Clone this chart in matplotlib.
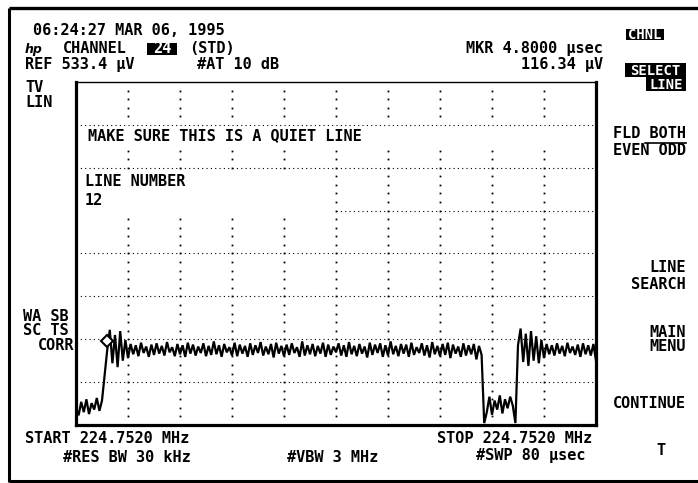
import numpy as np
import matplotlib
matplotlib.use('Agg')
import matplotlib.pyplot as plt
from matplotlib.patches import Rectangle
import matplotlib.transforms as mtransforms

W, H = 698, 483

# ---------------- data ----------------
ref_level_uv = 533.4
sweep_us = 80.0
n_div_x, n_div_y = 10, 8
trace_step_us = 0.4

trace_uv = [
    28, 15, 36, 20, 40, 17, 34, 24, 42, 22, 38,
    78, 116.3,
    148, 96, 140, 90, 146, 100, 132, 104,
    126, 110, 124, 107, 128, 112, 122, 106, 125, 109,
    127, 111, 123, 108, 129, 113, 121, 107, 126, 110,
    124, 106, 128, 111, 125, 108, 122, 112, 127, 107,
    123, 109, 130, 110, 124, 106, 126, 113, 121, 108,
    128, 107, 125, 111, 123, 106, 127, 109, 124, 112,
    129, 108, 122, 110, 126, 105, 128, 111, 123, 107,
    125, 109, 127, 112, 121, 106, 130, 108, 124, 110,
    126, 107, 123, 111, 128, 106, 125, 109, 122, 113,
    127, 108, 124, 106, 129, 110, 123, 107, 126, 111,
    122, 105, 128, 109, 125, 112, 127, 106, 124, 108,
    130, 110, 123, 107, 126, 111, 125, 106, 128, 109,
    121, 112, 127, 108, 124, 105, 129, 110, 123, 107,
    126, 109, 128, 104, 125, 111, 122, 106, 127, 108,
    124, 110, 126, 102, 123, 109,
    3, 20, 44, 16, 38, 24, 46, 18, 40, 26, 44, 30, 3,
    124,
    150, 98, 142, 92, 146, 100, 138, 96, 132, 104,
    126, 110, 124, 108, 127, 111, 123, 107, 128, 112,
    122, 109, 125, 106, 127, 110, 124, 108, 126,
    100,
]

marker_t_us = 4.8
marker_uv = 116.34

date_text = "06:24:27 MAR 06, 1995"
channel_text = "CHANNEL"
channel_num = "24"
channel_std = "(STD)"
ref_text = "REF 533.4 µV"
atten_text = "#AT 10 dB"
mkr_text = "MKR 4.8000 µsec"
mkr_val_text = "116.34 µV"
left_labels = ["TV", "LIN"]
left_labels2 = ["WA SB", "SC TS", "CORR"]
msg_text = "MAKE SURE THIS IS A QUIET LINE"
line_num_label = "LINE NUMBER"
line_num_value = "12"
start_text = "START 224.7520 MHz"
stop_text = "STOP 224.7520 MHz"
rbw_text = "#RES BW 30 kHz"
vbw_text = "#VBW 3 MHz"
swp_text = "#SWP 80 µsec"

# ---------------- figure ----------------
fig = plt.figure(figsize=(W / 100, H / 100), dpi=100)
fig.patch.set_facecolor('white')

ax = fig.add_axes([76 / W, (H - 425) / H, 520 / W, 343 / H])
ax.set_xlim(0, sweep_us)
ax.set_ylim(0, ref_level_uv)
ax.set_xticks([])
ax.set_yticks([])
ax.set_facecolor('white')
for s in ['left', 'right', 'bottom']:
    ax.spines[s].set_linewidth(2.3)
ax.spines['top'].set_linewidth(1.0)

dx = sweep_us / n_div_x
dy = ref_level_uv / n_div_y

# horizontal graticule lines
for i in range(1, n_div_y):
    x0 = 5 * dx if i == 5 else 0
    ax.plot([x0, sweep_us], [i * dy, i * dy], color='k', lw=0.8,
            linestyle=(0, (1, 2.9)), zorder=1)

# vertical graticule dots
vx, vy = [], []
for k in range(1, n_div_x):
    for j in range(1, 5 * n_div_y):
        d = j / 5
        if 6.5 < d < 7.1:
            continue
        if k <= 4 and 4.9 < d < 5.95:
            continue
        vx.append(k * dx)
        vy.append(d * dy)
ax.plot(vx, vy, linestyle='none', marker='s', ms=1.3, color='k', mew=0, zorder=1)

# trace
t = np.arange(len(trace_uv)) * trace_step_us
ax.plot(t, trace_uv, color='k', lw=1.6, zorder=3, solid_joinstyle='miter')

# marker diamond
off = mtransforms.offset_copy(ax.transData, fig=fig, x=0, y=9, units='dots')
ax.plot([marker_t_us], [marker_uv], marker='D', ms=6.5, mfc='white', mec='k',
        mew=1.5, transform=off, zorder=4, linestyle='none')

# ---------------- overlay in pixel coords ----------------
ov = fig.add_axes([0, 0, 1, 1], zorder=5)
ov.set_xlim(0, W)
ov.set_ylim(H, 0)
ov.axis('off')

FONT = dict(family='DejaVu Sans Mono', weight='bold', fontsize=11)


def txt(x, y, s, ha='left', color='k', **kw):
    d = dict(FONT)
    d.update(kw)
    ov.text(x, y, s, ha=ha, va='baseline', color=color, **d)


# outer frame
ov.plot([9, W], [8, 8], color='k', lw=2.4, solid_capstyle='butt')
ov.plot([9, 9], [8, 482], color='k', lw=2.2, solid_capstyle='butt')
ov.plot([9, W], [481, 481], color='k', lw=2.2, solid_capstyle='butt')

# header
txt(33, 35, date_text)
ov.text(25, 53, "hp", ha='left', va='baseline', color='k', family='DejaVu Sans',
        weight='bold', style='italic', fontsize=9)
txt(63, 53, channel_text)
ov.add_patch(Rectangle((147, 43), 30, 12, facecolor='k', edgecolor='none'))
txt(162, 53, channel_num, ha='center', color='white')
txt(189, 53, channel_std)
txt(25, 69, ref_text)
txt(197, 69, atten_text)
txt(603, 53, mkr_text, ha='right')
txt(603, 69, mkr_val_text, ha='right')

# inverted softkey labels
ov.add_patch(Rectangle((626, 29), 38, 11, facecolor='k', edgecolor='none'))
txt(645, 39, "CHNL", ha='center', color='white', fontsize=10)
ov.add_patch(Rectangle((625, 63), 61, 14, facecolor='k', edgecolor='none'))
txt(655.5, 75, "SELECT", ha='center', color='white', fontsize=10)
ov.add_patch(Rectangle((646, 77), 40, 14, facecolor='k', edgecolor='none'))
txt(666, 89, "LINE", ha='center', color='white', fontsize=10)

# left annotations
txt(25, 92, left_labels[0])
txt(25, 107, left_labels[1])
txt(23, 321, left_labels2[0])
txt(23, 335, left_labels2[1])
txt(74, 350, left_labels2[2], ha='right')

# messages inside graticule
txt(88, 140, msg_text)
txt(85, 186, line_num_label)
txt(85, 205, line_num_value)

# right menu
txt(686, 138, "FLD BOTH", ha='right')
txt(686, 155, "EVEN ODD", ha='right')
ov.plot([645, 686], [142.5, 142.5], color='k', lw=1.2)
txt(686, 272, "LINE", ha='right')
txt(686, 289, "SEARCH", ha='right')
ov.text(686, 351, "MAIN\nMENU", ha='right', va='baseline', ma='right',
        linespacing=0.9, color='k', **FONT)
txt(686, 408, "CONTINUE", ha='right')
txt(661, 455, "T", ha='center')

# bottom annotations
txt(25, 443, start_text)
txt(63, 462, rbw_text)
txt(333, 462, vbw_text, ha='center')
txt(592, 443, stop_text, ha='right')
txt(585, 460, swp_text, ha='right')

fig.savefig('out.png', dpi=100, facecolor='white')
